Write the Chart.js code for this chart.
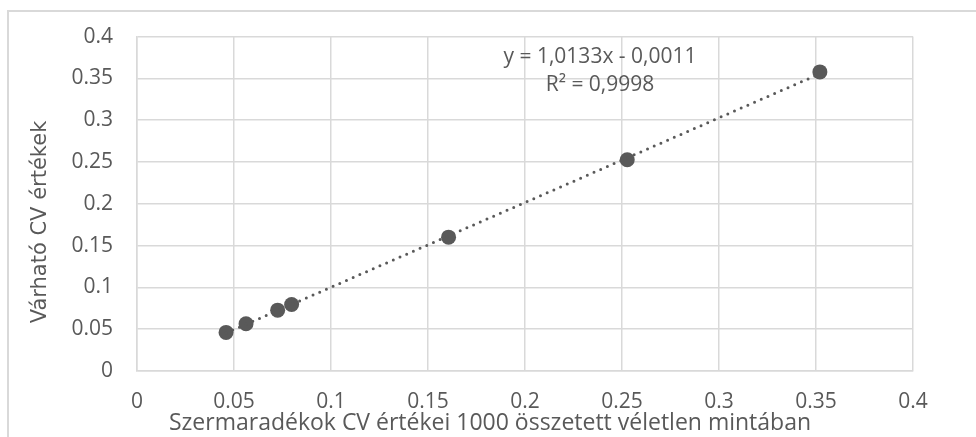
<!DOCTYPE html>
<html lang="hu">
<head>
  <meta charset="UTF-8">
  <title>Várható CV értékek</title>
  <script src="https://cdn.jsdelivr.net/npm/chart.js"></script>
  <style>
    html, body { margin: 0; padding: 0; background: #fff; }
    #wrap { width: 976px; height: 437px; position: relative; }
  </style>
</head>
<body>
  <div id="wrap"><canvas id="grafico" width="976" height="437"></canvas></div>

  <script>
    // pontok
    const xValues = [0.0459, 0.0562, 0.0725, 0.0797, 0.1606, 0.2527, 0.3520];
    const yValues = [0.0462, 0.0566, 0.0728, 0.0796, 0.1601, 0.2527, 0.3578];
    const xTickLabels = ['0', '0.05', '0.1', '0.15', '0.2', '0.25', '0.3', '0.35', '0.4'];
    const yTickLabels = ['0', '0.05', '0.1', '0.15', '0.2', '0.25', '0.3', '0.35', '0.4'];
    // trendvonal: y = 1,0133x - 0,0011
    const slope = 1.0133;
    const intercept = -0.0011;
    const eqLines = ['y = 1,0133x - 0,0011', 'R² = 0,9998'];
    const xTitle = 'Szermaradékok CV értékei 1000 összetett véletlen mintában';
    const yTitle = 'Várható CV értékek';

    const grey = '#595959';
    const gridGrey = '#d9d9d9';
    const font = "'Open Sans', sans-serif";

    const points = xValues.map((x, i) => ({ x: x, y: yValues[i] }));
    const xMin = Math.min(...xValues), xMax = Math.max(...xValues);
    const trend = [xMin, xMax].map(x => ({ x: x, y: slope * x + intercept }));

    // keret, egyenlet, tengelycímek
    const extras = {
      id: 'extras',
      beforeDraw(chart) {
        const c = chart.ctx;
        c.save();
        c.strokeStyle = gridGrey;
        c.lineWidth = 2;
        c.beginPath();
        c.moveTo(8, 437);
        c.lineTo(8, 11);
        c.lineTo(976, 11);
        c.stroke();
        c.restore();
      },
      afterDraw(chart) {
        const c = chart.ctx;
        c.save();
        c.fillStyle = grey;
        c.textAlign = 'center';
        c.textBaseline = 'middle';
        c.font = "21px " + font;
        c.fillText(eqLines[0], 600, 57);
        c.fillText(eqLines[1], 600, 85);
        c.font = "23px " + font;
        c.fillText(xTitle, 490, 423);
        c.translate(41, 222);
        c.rotate(-Math.PI / 2);
        c.font = "21px 'DejaVu Sans', sans-serif";
        c.fillText(yTitle, 0, 0);
        c.restore();
      }
    };

    new Chart(document.getElementById('grafico'), {
      type: 'scatter',
      data: {
        datasets: [
          {
            type: 'line',
            data: trend,
            borderColor: grey,
            borderWidth: 3,
            borderDash: [0, 7.3],
            borderCapStyle: 'round',
            pointRadius: 0,
            fill: false
          },
          {
            data: points,
            backgroundColor: grey,
            borderColor: grey,
            borderWidth: 0,
            pointRadius: 7.5
          }
        ]
      },
      options: {
        responsive: false,
        animation: false,
        layout: { padding: { top: 26, right: 63, left: 0, bottom: 0 } },
        plugins: { legend: { display: false }, tooltip: { enabled: false } },
        scales: {
          x: {
            type: 'linear',
            min: 0, max: 0.4,
            afterFit(s) { s.height = 66; },
            ticks: {
              stepSize: 0.05,
              padding: 18,
              color: grey,
              font: { family: font, size: 21 },
              callback: (v, i) => xTickLabels[i]
            },
            grid: { color: gridGrey, lineWidth: 1.5, drawTicks: false },
            border: { color: gridGrey, width: 1.5 }
          },
          y: {
            type: 'linear',
            min: 0, max: 0.4,
            afterFit(s) { s.width = 137; },
            ticks: {
              stepSize: 0.05,
              padding: 24,
              color: grey,
              font: { family: font, size: 21 },
              callback: (v, i) => yTickLabels[i]
            },
            grid: { color: gridGrey, lineWidth: 1.5, drawTicks: false },
            border: { color: gridGrey, width: 1.5 }
          }
        }
      },
      plugins: [extras]
    });
  </script>
</body>
</html>
